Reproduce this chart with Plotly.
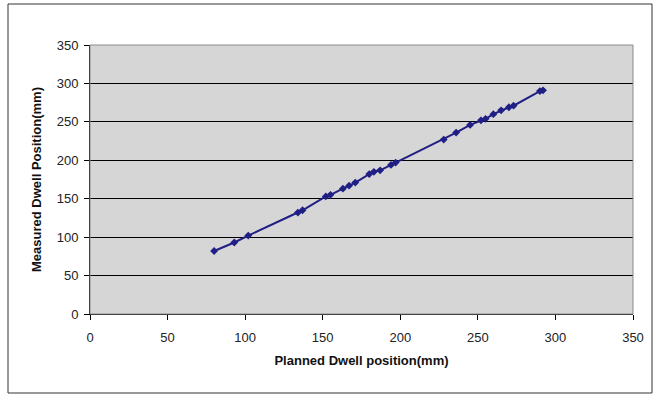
import plotly.graph_objects as go

planned = [80, 93, 102, 134, 137, 152, 155, 163, 167, 171, 180, 183, 187,
           194, 197, 228, 236, 245, 252, 255, 260, 265, 270, 273, 290, 292]
measured = [82, 93, 102, 132, 135, 153, 155, 163, 167, 171, 182, 185, 187,
            194, 197, 227, 236, 246, 252, 254, 260, 265, 269, 271, 290, 291]

fig = go.Figure()
fig.add_trace(go.Scatter(
    x=planned, y=measured, mode="lines+markers",
    line=dict(color="#1f1f85", width=2),
    marker=dict(symbol="diamond", size=6, color="#1f1f85"),
    showlegend=False,
))

font = dict(family="Liberation Sans, Arial, sans-serif", size=13, color="#222")
tfont = dict(family="Liberation Sans, Arial, sans-serif", size=13, color="#111")

fig.update_layout(
    width=660, height=405,
    margin=dict(l=90, r=27, t=45, b=91),
    paper_bgcolor="white",
    plot_bgcolor="#d6d6d6",
    font=font,
    xaxis=dict(
        range=[0, 350], dtick=50, tick0=0,
        showgrid=False, zeroline=False,
        showline=True, linecolor="black", linewidth=1,
        ticks="outside", ticklen=5, tickcolor="black",
        ticklabelstandoff=6,
        title=dict(text="<b>Planned Dwell position(mm)</b>", font=tfont, standoff=12),
    ),
    yaxis=dict(
        range=[0, 350], dtick=50, tick0=0,
        showgrid=True, gridcolor="black", gridwidth=1,
        zeroline=False,
        showline=True, linecolor="black", linewidth=1,
        ticks="outside", ticklen=5, tickcolor="black",
        ticklabelstandoff=3,
        title=dict(text="<b>Measured Dwell Position(mm)</b>", font=tfont, standoff=12),
    ),
    shapes=[
        dict(type="rect", xref="paper", yref="paper", x0=0, x1=1, y0=0, y1=1,
             line=dict(color="#8a8a8a", width=1), layer="above"),
    ],
)

# outer chart border
fig.add_shape(type="rect", xref="paper", yref="paper",
              x0=-82/543, x1=1 + 19/543, y0=-79/269, y1=1 + 41/269,
              line=dict(color="#333", width=1))

fig.write_html("out.html")
